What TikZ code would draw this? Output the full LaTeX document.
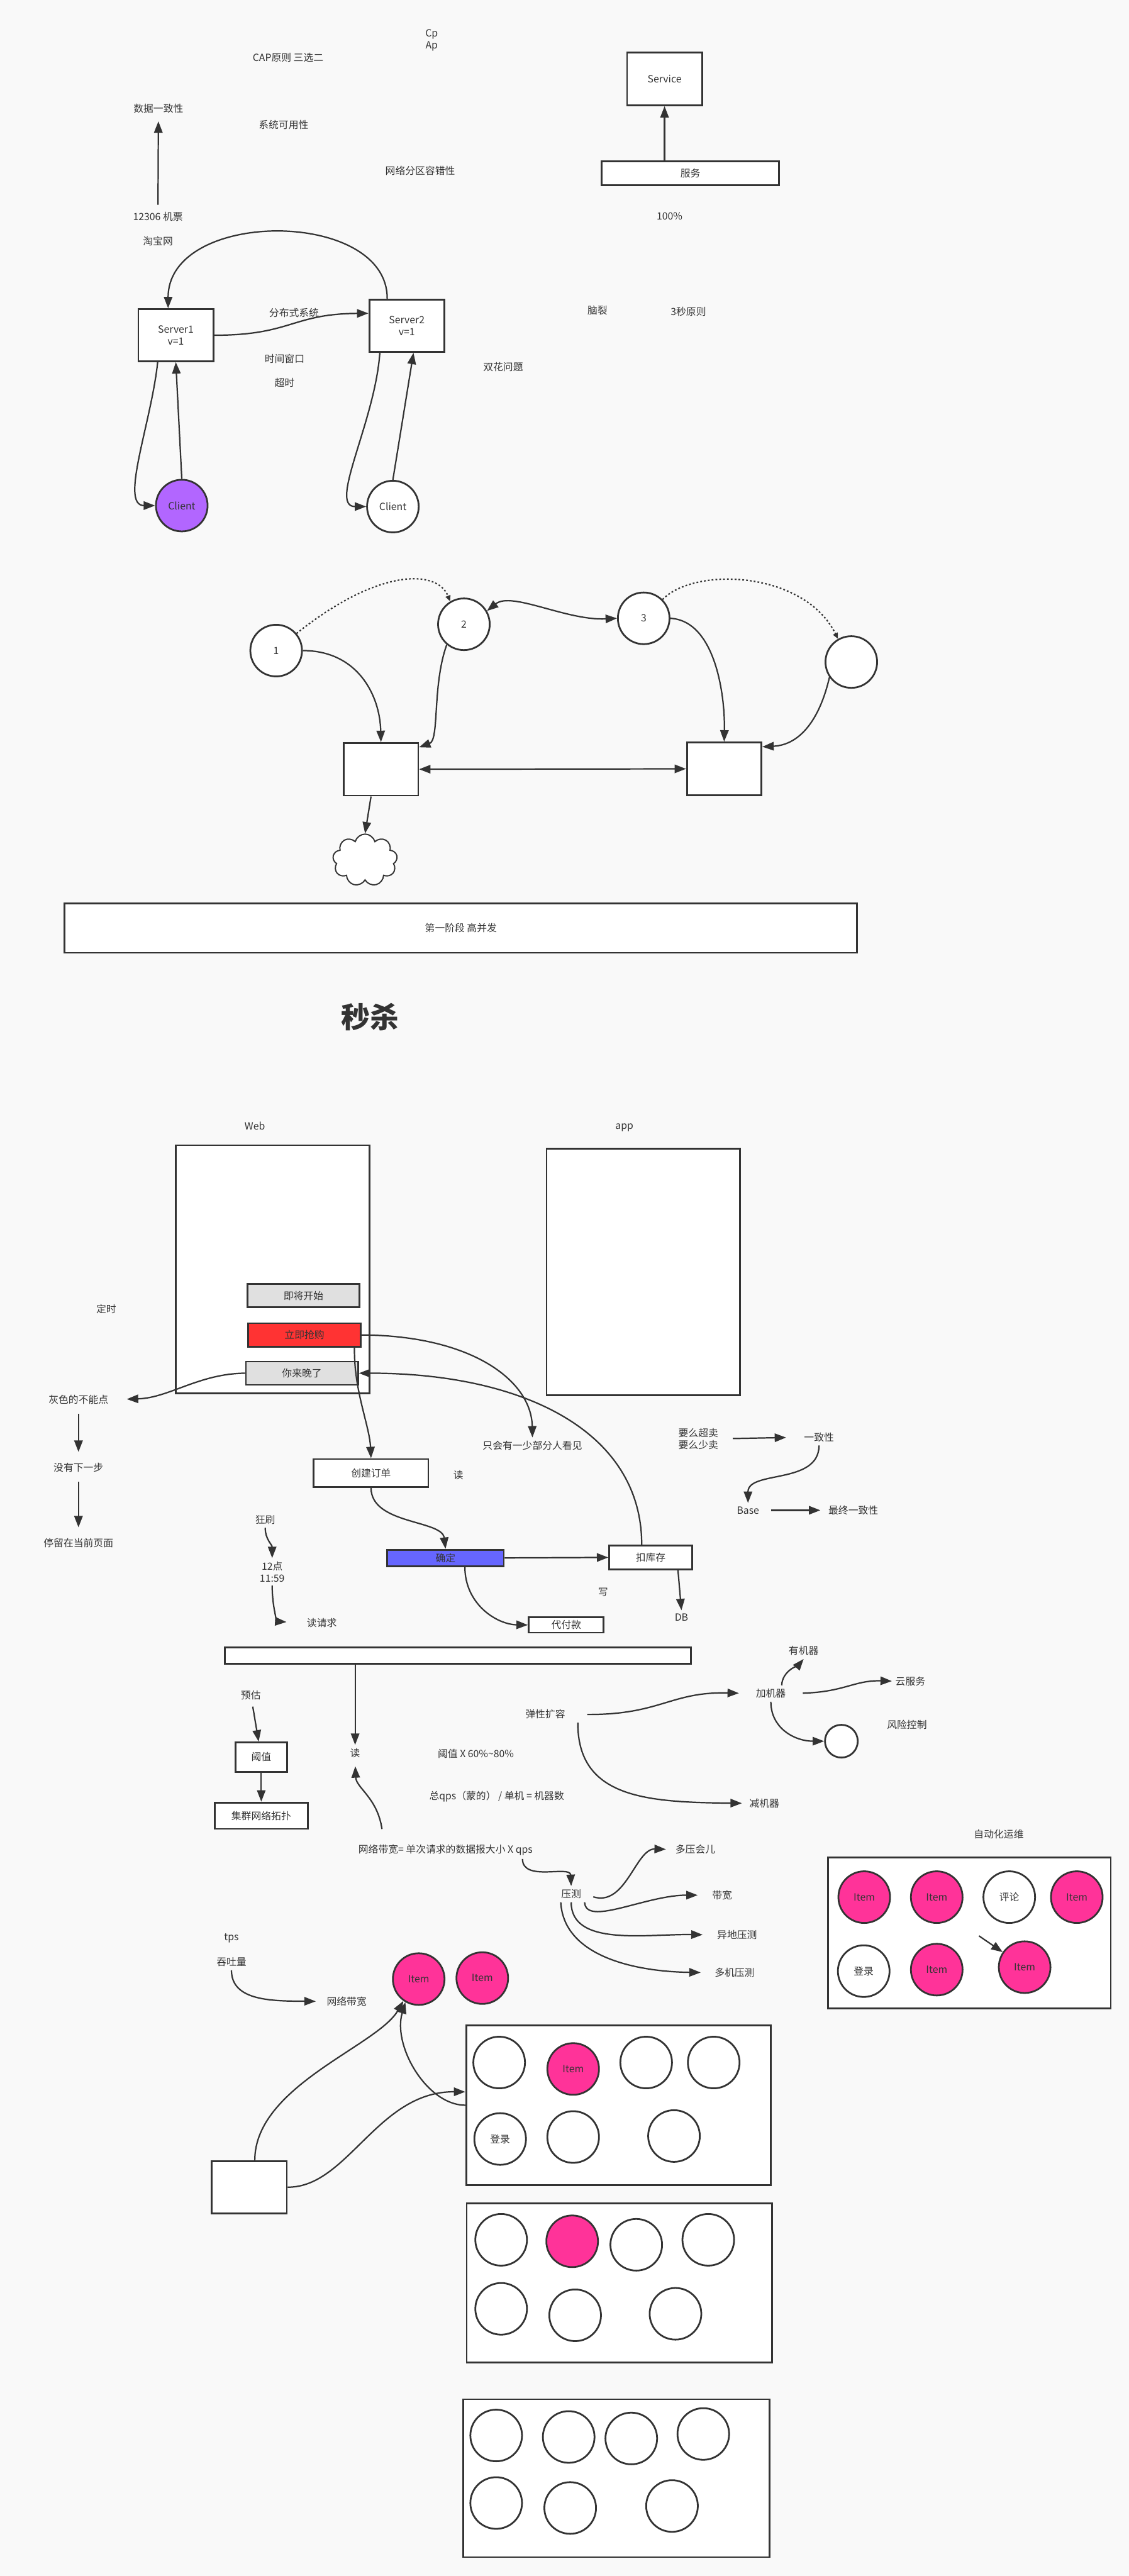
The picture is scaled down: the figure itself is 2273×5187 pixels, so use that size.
\documentclass[tikz,border=0pt]{standalone}
\usepackage{fontspec}
\setmainfont{Noto Sans CJK SC}
\usetikzlibrary{arrows.meta,shapes.symbols}
\definecolor{ink}{HTML}{333333}
\definecolor{paper}{HTML}{F9F9F9}
\definecolor{clientpurple}{HTML}{B266FF}
\definecolor{btngray}{HTML}{E0E0E0}
\definecolor{buyred}{HTML}{FF3333}
\definecolor{okblue}{HTML}{6666FF}
\definecolor{itempink}{HTML}{FF3399}

\begin{document}
\begin{tikzpicture}[
  x=0.02cm,
  y=-0.02cm,
  color=ink,
  font=\fontsize{11.4}{13.6}\selectfont,
  line width=1.6pt,
  arr/.style={-{Triangle[length=0.46cm,width=0.34cm]}},
  darr/.style={{Triangle[length=0.46cm,width=0.34cm]}-{Triangle[length=0.46cm,width=0.34cm]}},
  dotarr/.style={dash pattern=on 2pt off 2.4pt,-{Triangle[length=0.24cm,width=0.2cm]}},
  box/.style={draw,line width=2pt,fill=white,align=center,inner sep=0pt},
  btn/.style={box,minimum width=4.52cm,minimum height=0.94cm},
  ring/.style={draw,circle,line width=2pt,fill=white,minimum size=2.08cm,inner sep=0pt},
  item/.style={ring,fill=itempink}
]
\fill[paper] (0,0) rectangle (2273,5187);

% CAP notes
\node[align=center] (cp) at (869,81) {Cp\\Ap};
\node (cap) at (580,116) {CAP原则 三选二};
\node (consist) at (319,219) {数据一致性};
\node (avail) at (571,251) {系统可用性};
\node (partition) at (846,344) {网络分区容错性};
\node (ticket) at (318,436) {12306 机票};
\node (taobao) at (318,485) {淘宝网};
\draw[arr,shorten <=4pt,shorten >=5pt] (ticket) -- (consist);

% service
\node[box,minimum width=3.02cm,minimum height=2.12cm] (service) at (1338,159) {Service};
\node[box,minimum width=7.14cm,minimum height=0.96cm] (fuwu) at (1390,349) {服务};
\draw[arr] (fuwu.north -| service) -- (service.south);
\node (pct) at (1348,435) {100\%};
\node (brain) at (1203,625) {脑裂};
\node (rule) at (1386,627) {3秒原则};

% servers and clients
\node[box,minimum width=3.02cm,minimum height=2.1cm] (server1) at (354,675) {Server1\\v=1};
\node[box,minimum width=3.02cm,minimum height=2.1cm] (server2) at (819,656) {Server2\\v=1};
\node[ring,fill=clientpurple] (client1) at (366,1018) {Client};
\node[ring] (client2) at (791,1020) {Client};
\node (dist) at (592,630) {分布式系统};
\node (window) at (573,723) {时间窗口};
\node (timeout) at (573,771) {超时};
\node (double) at (1013,739) {双花问题};
\draw[arr] (server1.east) .. controls (587,675) and (587,632) .. (server2.162);
\draw[arr] (server2.126) .. controls (781,420) and (339,420) .. (server1.106);
\draw[arr] (server1.236) .. controls (305,850) and (240,1018) .. (client1.west);
\draw[arr] (client1.north) -- (server1.south);
\draw[arr] (server2.225) .. controls (755,850) and (660,1020) .. (client2.west);
\draw[arr] (client2.north) -- (server2.284);

% nodes 1-4
\node[ring] (n1) at (556,1310) {1};
\node[ring] (n2) at (934,1257) {2};
\node[ring] (n3) at (1296,1245) {3};
\node[ring] (n4) at (1714,1333) {};
\node[box,minimum width=3cm,minimum height=2.12cm] (boxA) at (767,1549) {};
\node[box,minimum width=3cm,minimum height=2.12cm] (boxB) at (1458,1548) {};
\node[cloud,draw,fill=white,line width=1.4pt,cloud puffs=9,minimum width=2.6cm,minimum height=2.1cm] (cloud) at (735,1732) {};
\draw[dotarr] (n1.40) .. controls (760,1145) and (880,1145) .. (n2.121);
\draw[dotarr] (n3.45) .. controls (1400,1140) and (1620,1150) .. (n4.120);
\draw[arr] (n1.east) .. controls (720,1310) and (765,1400) .. (boxA.north);
\draw[arr] (n2.230) .. controls (870,1380) and (885,1490) .. (boxA.30);
\draw[darr] (n2.30) .. controls (1030,1190) and (1140,1250) .. (n3.west);
\draw[arr] (n3.east) .. controls (1440,1250) and (1460,1400) .. (boxB.north);
\draw[arr] (n4.215) .. controls (1650,1450) and (1610,1500) .. (boxB.30);
\draw[darr] (boxA) -- (boxB);
\draw[arr] ([xshift=-0.4cm]boxA.south) -- (cloud.north);

\node[box,minimum width=31.92cm,minimum height=1.98cm] (stage) at (928,1869) {第一阶段 高并发};
\node[font=\fontsize{33}{36}\selectfont\bfseries] (title) at (745,2048) {秒杀};

% web page
\node (web) at (513,2267) {Web};
\node (app) at (1257,2270) {app};
\node[box,minimum width=7.82cm,minimum height=10cm] (webbox) at (549,2556) {};
\node[box,minimum width=7.78cm,minimum height=9.94cm] (appbox) at (1295,2561) {};
\node[btn,fill=btngray] (soon) at (611,2609) {即将开始};
\node[btn,fill=buyred] (buy) at (613,2688) {立即抢购};
\node[btn,fill=btngray] (late) at (608,2765) {你来晚了};
\node (timer) at (214,2636) {定时};
\node (gray) at (158,2818) {灰色的不能点};
\node (nonext) at (158,2955) {没有下一步};
\node (stay) at (158,3107) {停留在当前页面};
\draw[arr,shorten >=0.6cm] (late.west) .. controls (400,2766) and (340,2815) .. (gray.east);
\draw[arr,shorten <=0.24cm,shorten >=0.3cm] (gray) -- (nonext);
\draw[arr,shorten <=0.24cm,shorten >=0.3cm] (nonext) -- (stay);

% order flow
\node[box,minimum width=4.62cm,minimum height=1.12cm] (create) at (747,2966) {创建订单};
\node[box,minimum width=4.7cm,minimum height=0.66cm,fill=okblue] (confirm) at (897,3137) {确定};
\node[box,minimum width=3.34cm,minimum height=0.96cm] (stock) at (1310,3136) {扣库存};
\node[box,minimum width=3.02cm,minimum height=0.62cm] (pay) at (1140,3272) {代付款};
\node (few) at (1072,2911) {只会有一少部分人看见};
\node (read1) at (923,2970) {读};
\node (write) at (1214,3206) {写};
\node (db) at (1372,3257) {DB};
\draw[arr] ([xshift=-0.28cm]buy.south east) .. controls (712,2800) and (744,2870) .. (create.north);
\draw[arr] (buy.east) .. controls (950,2689) and (1070,2780) .. (few.north);
\draw[arr] ([xshift=-0.36cm]stock.north) .. controls (1292,2880) and (1050,2765) .. (late.east);
\draw[arr] (create.south) .. controls (747,3070) and (890,3060) .. (confirm.north);
\draw[arr] (confirm.east) -- (stock.west);
\draw[arr] ([xshift=0.78cm]confirm.south) .. controls (936,3230) and (1000,3271) .. (pay.west);
\draw[arr] ([xshift=1.1cm]stock.south) -- (db.north);

% consistency
\node[align=center] (oversell) at (1406,2897) {要么超卖\\要么少卖};
\node (consist2) at (1649,2894) {一致性};
\node (base) at (1506,3041) {Base};
\node (final) at (1718,3041) {最终一致性};
\draw[arr,shorten <=0.44cm,shorten >=0.58cm] (oversell.east) -- (consist2.west);
\draw[arr] (consist2.south) .. controls (1649,2990) and (1506,2960) .. (base.north);
\draw[arr,shorten <=0.34cm,shorten >=0.18cm] (base.east) -- (final.west);

% requests
\node (brush) at (534,3060) {狂刷};
\node[align=center] (noon) at (548,3165) {12点\\11:59};
\node (readreq) at (648,3268) {读请求};
\draw[arr] (brush.south) .. controls (534,3100) and (548,3110) .. (noon.north);
\draw[arr,shorten >=0.68cm] (noon.south) .. controls (548,3240) and (560,3265) .. (readreq.west);
\node[box,minimum width=18.78cm,minimum height=0.66cm] (bar) at (922,3334) {};
\node (read2) at (715,3530) {读};
\draw[arr] (bar.south -| read2) -- (read2.north);
\node (estimate) at (505,3413) {预估};
\node[box,minimum width=2.08cm,minimum height=1.18cm] (threshold) at (526,3538) {阈值};
\node[box,minimum width=3.76cm,minimum height=1.06cm] (cluster) at (526,3656) {集群网络拓扑};
\draw[arr,shorten <=0.14cm] (estimate) -- (threshold);
\draw[arr] (threshold) -- (cluster);
\node (ratio) at (958,3531) {阈值 X 60\%\textasciitilde80\%};
\node (qps) at (1000,3617) {总qps（蒙的） / 单机 = 机器数};
\node (bw) at (897,3725) {网络带宽= 单次请求的数据报大小 X qps};
\draw[arr,shorten >=0.2cm] ([xshift=-2.56cm,yshift=0.48cm]bw.north) .. controls (760,3620) and (717,3600) .. (read2.south);

% scaling
\node (elastic) at (1098,3452) {弹性扩容};
\node (addm) at (1552,3410) {加机器};
\node (hasm) at (1618,3324) {有机器};
\node (cloudsvc) at (1833,3385) {云服务};
\node (risk) at (1826,3473) {风险控制};
\node[ring,minimum size=1.32cm] (riskc) at (1694,3506) {};
\node (subm) at (1539,3631) {减机器};
\draw[arr,shorten <=0.74cm,shorten >=0.54cm] (elastic.east) .. controls (1330,3453) and (1350,3406) .. (addm.west);
\draw[arr,shorten >=0.16cm] ([xshift=0.36cm]elastic.south east) .. controls (1163,3620) and (1300,3629) .. (subm.west);
\draw[arr] ([xshift=0.44cm]addm.north) .. controls (1574,3365) and (1610,3350) .. (hasm.south);
\draw[arr,shorten <=0.54cm] (addm.east) .. controls (1700,3407) and (1720,3383) .. (cloudsvc.west);
\draw[arr] (addm.south) .. controls (1552,3480) and (1600,3506) .. (riskc.west);

% stress test
\node (stress) at (1150,3814) {压测};
\node (more) at (1400,3724) {多压会儿};
\node (bandw) at (1454,3816) {带宽};
\node (remote) at (1484,3896) {异地压测};
\node (multi) at (1479,3972) {多机压测};
\draw[arr] ([xshift=3.1cm]bw.south) .. controls (1052,3790) and (1148,3755) .. (stress.north);
\draw[arr,shorten <=0.36cm,shorten >=0.24cm] (stress.east) .. controls (1260,3840) and (1280,3722) .. (more.west);
\draw[arr,shorten >=0.44cm] ([xshift=0.54cm]stress.south) .. controls (1180,3880) and (1300,3816) .. (bandw.west);
\draw[arr,shorten >=0.44cm] (stress.south) .. controls (1150,3920) and (1300,3894) .. (remote.west);
\draw[arr,shorten >=0.42cm] ([xshift=-0.42cm]stress.south) .. controls (1135,3940) and (1280,3970) .. (multi.west);

% ops
\node (autoops) at (2011,3693) {自动化运维};
\node[box,minimum width=11.38cm,minimum height=6.08cm] (opsbox) at (1952,3892) {};
\node[item] (o1) at (1740,3820) {Item};
\node[item] (o2) at (1886,3820) {Item};
\node[ring] (o3) at (2032,3820) {评论};
\node[item] (o4) at (2168,3820) {Item};
\node[ring] (o5) at (1739,3969) {登录};
\node[item] (o6) at (1886,3966) {Item};
\node[item] (o7) at (2063,3961) {Item};
\coordinate (opsfrom) at (1971,3898);
\draw[arr] (opsfrom) -- (o7);

% throughput
\node (tps) at (466,3903) {tps};
\node (throughput) at (466,3951) {吞吐量};
\node (netbw) at (698,4030) {网络带宽};
\draw[arr,shorten >=0.3cm] (throughput.south) .. controls (466,4030) and (550,4029) .. (netbw.west);
\node[item] (it1) at (843,3985) {Item};
\node[item] (it2) at (971,3983) {Item};

% grid 1
\node[box,minimum width=12.26cm,minimum height=6.44cm] (grid1) at (1245,4239) {};
\foreach \cx/\cy/\nm in {1005/4153/a,1301/4153/c,1437/4153/d,1154/4303/f,1357/4301/g}
  \node[ring] (g1\nm) at (\cx,\cy) {};
\node[item] (g1b) at (1154,4166) {Item};
\node[ring] (g1e) at (1007,4307) {登录};
\node[box,minimum width=3.02cm,minimum height=2.1cm] (sbox) at (502,4404) {};
\draw[arr] ([xshift=0.22cm]sbox.north) .. controls (513,4200) and (760,4120) .. (it1.235);
\draw[arr] (grid1.west) .. controls (860,4239) and (790,4120) .. (it1.240);
\draw[arr] (sbox.east) .. controls (700,4405) and (760,4211) .. (grid1.175);

% grid 2
\node[box,minimum width=12.3cm,minimum height=6.42cm] (grid2) at (1247,4597) {};
\foreach \cx/\cy/\nm in {1009/4510/a,1281/4520/c,1426/4510/d,1009/4649/e,1158/4662/f,1360/4659/g}
  \node[ring] (g2\nm) at (\cx,\cy) {};
\node[item] (g2b) at (1152,4513) {};

% grid 3
\node[box,minimum width=12.32cm,minimum height=6.36cm] (grid3) at (1241,4990) {};
\foreach \cx/\cy/\nm in {999/4904/a,1145/4907/b,1271/4910/c,1416/4901/d,999/5040/e,1148/5050/f,1353/5046/g}
  \node[ring] (g3\nm) at (\cx,\cy) {};
\end{tikzpicture}
\end{document}
